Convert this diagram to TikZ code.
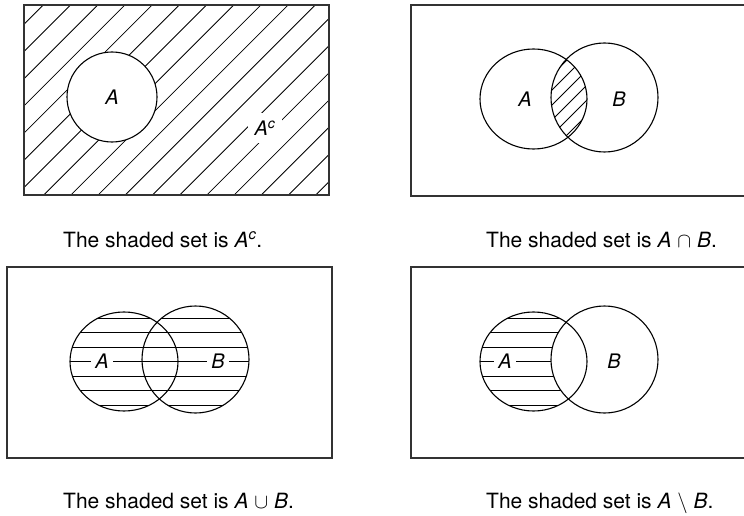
\documentclass[tikz,border=0pt]{standalone}
\usepackage{fontspec}
\setmainfont{TeX Gyre Heros}
\begin{document}
\begin{tikzpicture}[x=1pt,y=-1pt,
  frame/.style={line width=1.3pt, draw=black!80},
  setline/.style={line width=1.1pt, draw=black},
  hatch/.style={line width=0.8pt, draw=black},
  lbl/.style={font=\fontsize{20}{24}\selectfont\itshape, inner sep=1pt},
  gaplbl/.style={lbl, fill=white, inner xsep=4pt, inner ysep=2pt},
  captxt/.style={font=\fontsize{21}{25}\selectfont, anchor=base west, inner sep=0pt}]
\clip (0,0) rectangle (744,516);
\fill[white] (0,0) rectangle (744,516);

% ---------- Panel 1: complement ----------
\begin{scope}
  \clip (24,5) rectangle (329,195);
  \foreach \c in {48.3,75.5,...,540} \draw[hatch] (\c,0) -- ++(-230,230);
\end{scope}
\fill[white] (112,97) circle[radius=45];
\draw[setline] (112,97) circle[radius=45];
\draw[frame] (24,5) rectangle (329,195);
\node[lbl] (a1) at (112,97) {A};
\node[lbl, fill=white, inner sep=7pt] (ac) at (265,128) {A\textsuperscript{c}};

% ---------- Panel 2: intersection ----------
\begin{scope}
  \clip (533.5,99) ellipse[x radius=53.5, y radius=50];
  \clip (604.5,97.5) ellipse[x radius=53.5, y radius=54.5];
  \foreach \c in {612,627,...,730} \draw[hatch] (\c,0) -- ++(-230,230);
\end{scope}
\draw[setline] (533.5,99) ellipse[x radius=53.5, y radius=50];
\draw[setline] (604.5,97.5) ellipse[x radius=53.5, y radius=54.5];
\draw[frame] (411,5) rectangle (760,196);
\node[lbl] (a2) at (525,99) {A};
\node[lbl] (b2) at (619,99) {B};

% ---------- Panel 3: union ----------
\begin{scope}
  \clip (124,361.5) ellipse[x radius=54, y radius=49.5];
  \foreach \y in {318,332.5,347,361.5,376,390.5,405} \draw[hatch] (60,\y) -- (260,\y);
\end{scope}
\begin{scope}
  \clip (195.5,359.5) ellipse[x radius=53.5, y radius=53.5];
  \foreach \y in {318,332.5,347,361.5,376,390.5,405} \draw[hatch] (60,\y) -- (260,\y);
\end{scope}
\draw[setline] (124,361.5) ellipse[x radius=54, y radius=49.5];
\draw[setline] (195.5,359.5) ellipse[x radius=53.5, y radius=53.5];
\draw[frame] (7,267) rectangle (332,458);
\node[gaplbl] (a3) at (102,361.5) {A};
\node[gaplbl] (b3) at (218,361.5) {B};

% ---------- Panel 4: difference ----------
\begin{scope}
  \clip (533.5,361.5) ellipse[x radius=53.5, y radius=49.5];
  \foreach \y in {318,332.5,347,361.5,376,390.5,405} \draw[hatch] (470,\y) -- (670,\y);
\end{scope}
\fill[white] (604.5,359.5) ellipse[x radius=53.5, y radius=53.5];
\draw[setline] (533.5,361.5) ellipse[x radius=53.5, y radius=49.5];
\draw[setline] (604.5,359.5) ellipse[x radius=53.5, y radius=53.5];
\draw[frame] (411,267) rectangle (760,458);
\node[gaplbl] (a4) at (505,361.5) {A};
\node[lbl] (b4) at (614,361.5) {B};

% ---------- Captions ----------
\node[captxt] (c1) at (63,247) {The shaded set is \textit{A}\textsuperscript{\textit{c}}.};
\node[captxt] (c2) at (486,247) {The shaded set is \textit{A} $\cap$ \textit{B}.};
\node[captxt] (c3) at (63,508) {The shaded set is \textit{A} $\cup$ \textit{B}.};
\node[captxt] (c4) at (486,508) {The shaded set is \textit{A} $\setminus$ \textit{B}.};
\end{tikzpicture}
\end{document}
